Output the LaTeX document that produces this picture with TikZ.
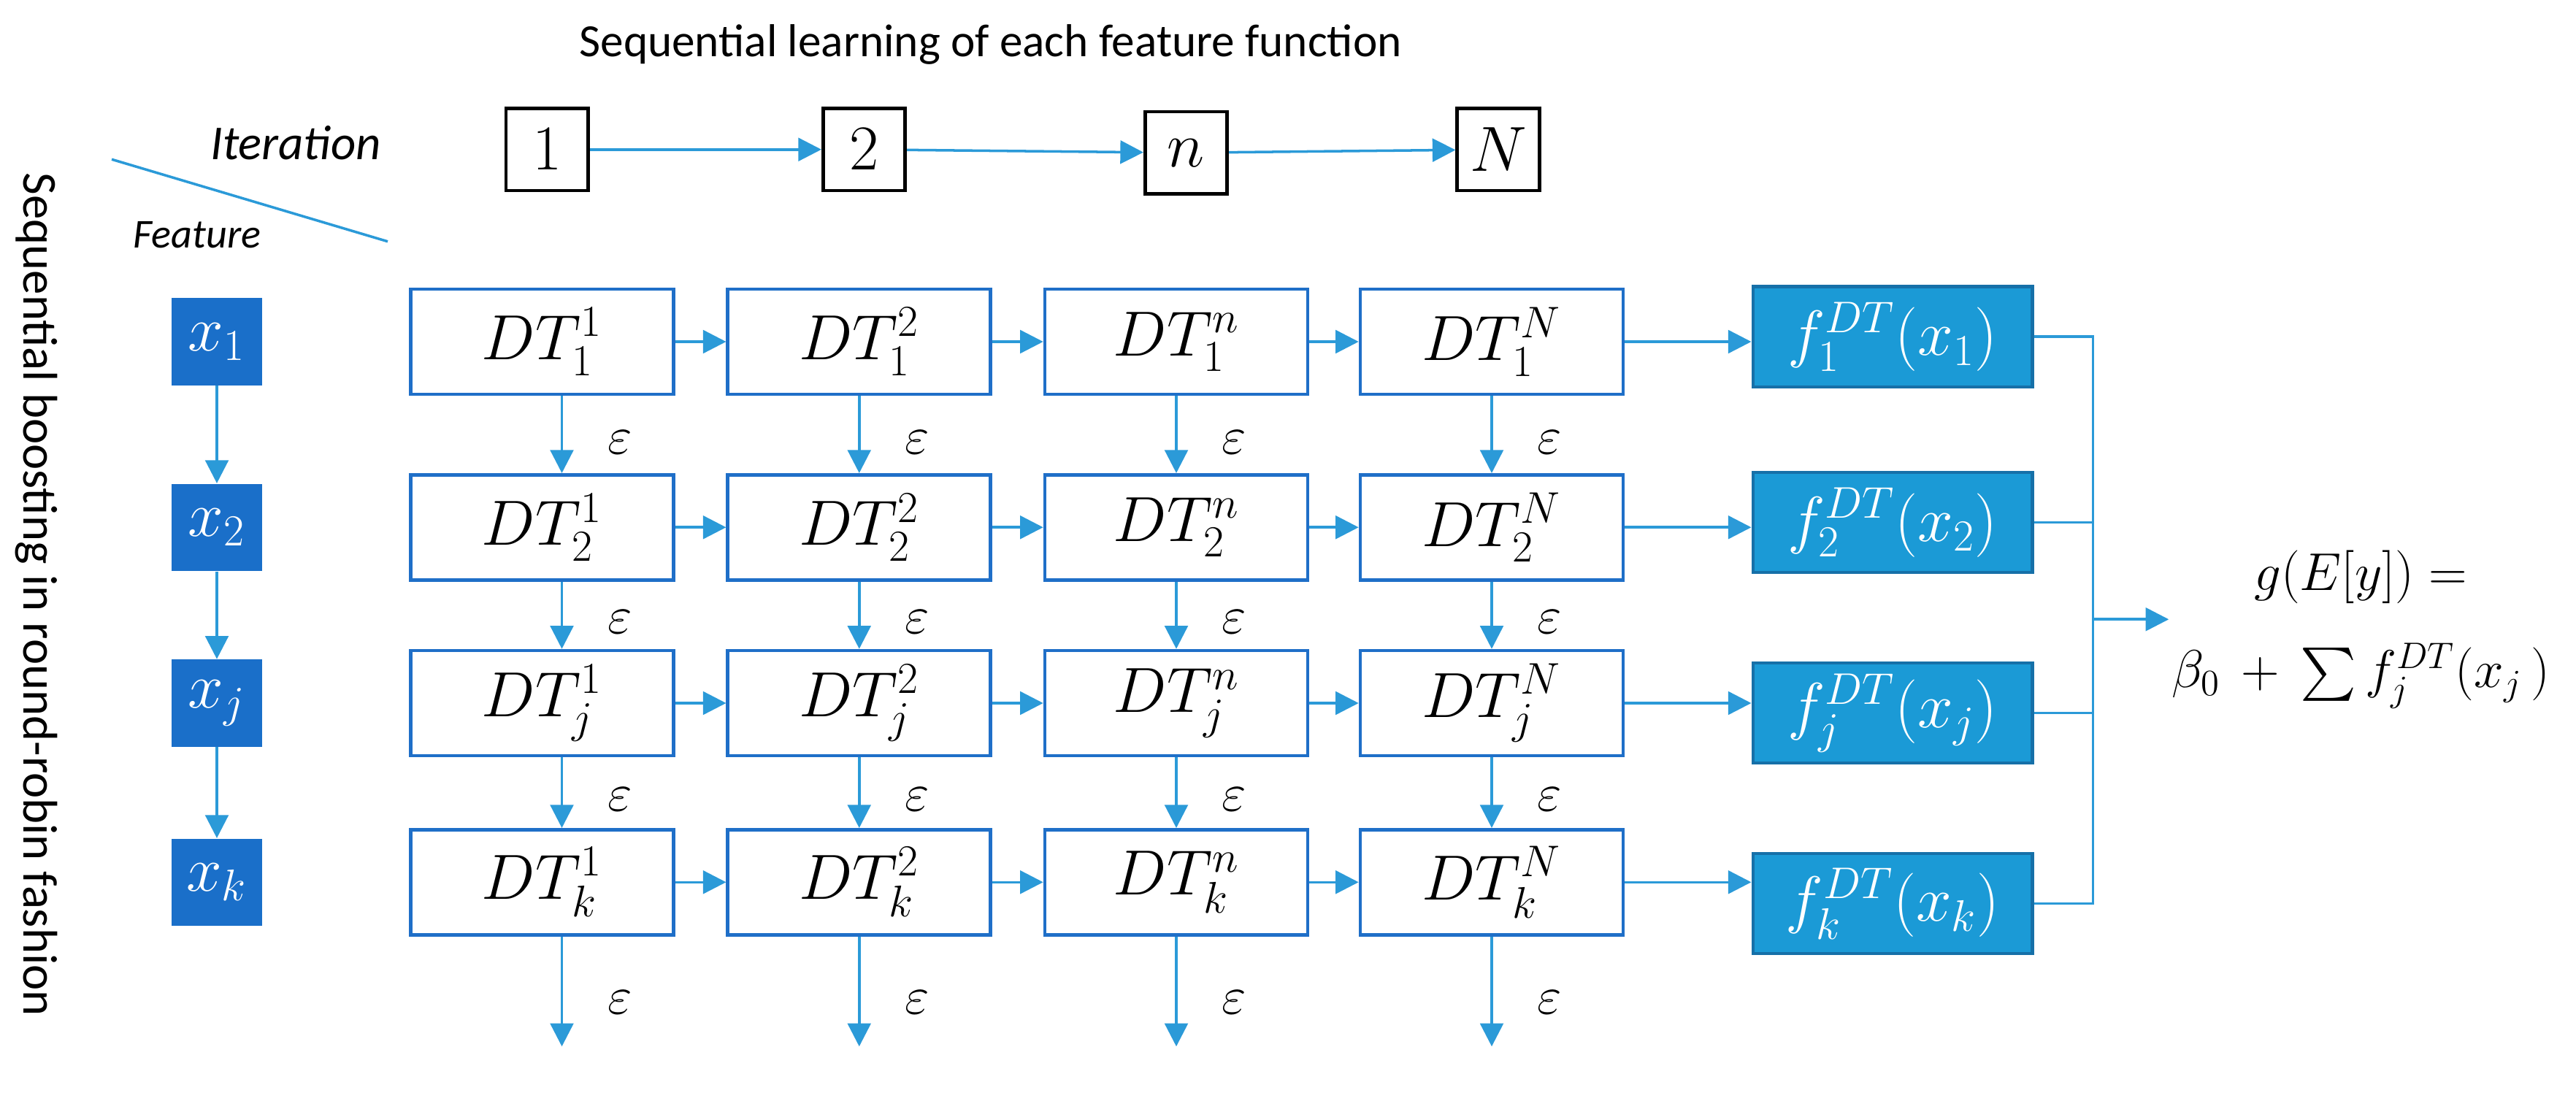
\documentclass[tikz,border=0pt]{standalone}
\usepackage{fontspec}
\setmainfont{Carlito}
\usepackage{amsmath}
\usetikzlibrary{arrows.meta}
\definecolor{arr}{HTML}{2B9AD8}
\definecolor{dtb}{HTML}{1F6FC8}
\definecolor{fbl}{HTML}{1B9AD6}
\definecolor{fbd}{HTML}{1670A8}
\definecolor{xbl}{HTML}{1A6FC9}
\begin{document}
\begin{tikzpicture}[x=0.0225cm,y=-0.0225cm,
  dt/.style={draw=dtb,line width=1.3pt,fill=white,minimum width=160*0.0225cm,minimum height=64*0.0225cm,font=\fontsize{23}{25}\selectfont},
  fb/.style={draw=fbd,line width=1.3pt,fill=fbl,text=white,minimum width=170*0.0225cm,minimum height=61*0.0225cm,font=\fontsize{23}{25}\selectfont},
  xb/.style={fill=xbl,text=white,minimum width=55*0.0225cm,minimum height=53*0.0225cm,font=\fontsize{23}{25}\selectfont},
  it/.style={draw=black,line width=1.3pt,minimum width=50*0.0225cm,minimum height=50*0.0225cm,font=\fontsize{23}{25}\selectfont},
  ar/.style={draw=arr,line width=1pt,-{Triangle[length=9pt,width=9pt]}},
  ln/.style={draw=arr,line width=1pt},
  ep/.style={font=\fontsize{20}{22}\selectfont}]
\useasboundingbox (0,0) rectangle (1568,665);
\node[font=\fontsize{18}{20}\selectfont] (title) at (603,27) {Sequential learning of each feature function};
\node[font=\fontsize{19}{22}\selectfont\itshape] (iter) at (180,87) {Iteration};
\node[font=\fontsize{16}{18}\selectfont\itshape] (feat) at (120,143) {Feature};
\coordinate (d1) at (68,97); \coordinate (d2) at (236,147);
\draw[ln] (d1) -- (d2);
\node[rotate=-90,font=\fontsize{19}{22}\selectfont] (side) at (22,362) {Sequential boosting in round-robin fashion};
\node[it] (i1) at (333,91) {$1$};
\node[it] (i2) at (526,91) {$2$};
\node[it] (i3) at (722,93) {$n$};
\node[it] (i4) at (912,91) {$N$};
\draw[ar] (i1) -- (i2); \draw[ar] (i2) -- (i3); \draw[ar] (i3) -- (i4);
\foreach \r/\s/\y/\fy in {1/1/208/205,2/2/321/318,3/j/428/434,4/k/537/550}{
  \node[xb] (x\r) at (132,\y) {$x_{\s}$};
  \node[dt] (a\r) at (330,\y) {$DT_{\s}^{1}$};
  \node[dt] (b\r) at (523,\y) {$DT_{\s}^{2}$};
  \node[dt] (c\r) at (716,\y) {$DT_{\s}^{n}$};
  \node[dt] (e\r) at (908,\y) {$DT_{\s}^{N}$};
  \node[fb] (f\r) at (1152,\fy) {$f_{\s}^{DT}(x_{\s})$};
  \draw[ar] (a\r) -- (b\r); \draw[ar] (b\r) -- (c\r); \draw[ar] (c\r) -- (e\r);
  \draw[ar] (e\r.east) -- (e\r.east -| f\r.west);
}
\foreach \c/\x in {a/342,b/523,c/716,e/908}{
  \draw[ar] (\c1.south -| \x,0) -- (\c2.north -| \x,0) node[ep,pos=0.6,right=14pt] {$\varepsilon$};
  \draw[ar] (\c2.south -| \x,0) -- (\c3.north -| \x,0) node[ep,pos=0.6,right=14pt] {$\varepsilon$};
  \draw[ar] (\c3.south -| \x,0) -- (\c4.north -| \x,0) node[ep,pos=0.6,right=14pt] {$\varepsilon$};
  \coordinate (\c5) at (\x,637);
  \draw[ar] (\c4.south -| \x,0) -- (\c5) node[ep,pos=0.6,right=14pt] {$\varepsilon$};
}
\draw[ar] (x1) -- (x2); \draw[ar] (x2) -- (x3); \draw[ar] (x3) -- (x4);
\coordinate (bt) at (1274,205); \coordinate (bb) at (1274,550); \coordinate (bm) at (1274,377);
\draw[ln] (f1.east) -- (bt) -- (bb) -- (f4.east);
\draw[ln] (f2.east) -- (f2.east -| bt);
\draw[ln] (f3.east) -- (f3.east -| bt);
\node[font=\fontsize{20}{36}\selectfont,align=center,inner sep=1pt] (g) at (1437,383) {$g(E[y]) =$\\[2pt]$\beta_0\,+\,\textstyle\sum f_j^{DT}(x_j\,)$};
\draw[ar] (bm) -- (g.west |- bm);
\end{tikzpicture}
\end{document}
